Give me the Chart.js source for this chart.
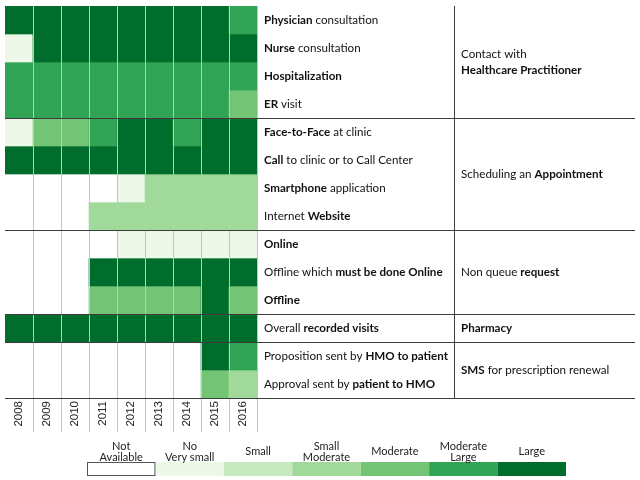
<!DOCTYPE html>
<html><head><meta charset="utf-8">
<script src="https://cdn.jsdelivr.net/npm/chart.js@4/dist/chart.umd.min.js"></script>
<style>html,body{margin:0;padding:0;background:#fff;}#wrap{width:640px;height:480px;position:relative;}</style>
</head><body><div id="wrap"><canvas id="c" width="640" height="480"></canvas></div>
<script>
// ---- data (level 0 = Not available ... 6 = Large) ----
const years = ['2008','2009','2010','2011','2012','2013','2014','2015','2016'];
const physician   = [6,6,6,6,6,6,6,6,5];
const nurse       = [1,6,6,6,6,6,6,6,6];
const hospital    = [5,5,5,5,5,5,5,5,5];
const erVisit     = [5,5,5,5,5,5,5,5,4];
const faceToFace  = [1,4,4,5,6,6,5,6,6];
const callClinic  = [6,6,6,6,6,6,6,6,6];
const smartphone  = [0,0,0,0,1,3,3,3,3];
const website     = [0,0,0,3,3,3,3,3,3];
const online      = [0,0,0,0,1,1,1,1,1];
const offMustOn   = [0,0,0,6,6,6,6,6,6];
const offline     = [0,0,0,4,4,4,4,6,4];
const overall     = [6,6,6,6,6,6,6,6,6];
const proposition = [0,0,0,0,0,0,0,6,5];
const approval    = [0,0,0,0,0,0,0,4,3];
const rows = [physician,nurse,hospital,erVisit,faceToFace,callClinic,smartphone,website,online,offMustOn,offline,overall,proposition,approval];

const rowLabels = [
  [['Physician',1],[' consultation',0]],
  [['Nurse',1],[' consultation',0]],
  [['Hospitalization',1]],
  [['ER',1],[' visit',0]],
  [['Face-to-Face',1],[' at clinic',0]],
  [['Call',1],[' to clinic or to Call Center',0]],
  [['Smartphone',1],[' application',0]],
  [['Internet ',0],['Website',1]],
  [['Online',1]],
  [['Offline which ',0],['must be done Online',1]],
  [['Offline',1]],
  [['Overall ',0],['recorded visits',1]],
  [['Proposition sent by ',0],['HMO to patient',1]],
  [['Approval sent by ',0],['patient to HMO',1]]
];
const groupBounds = [[0,4],[4,8],[8,11],[11,12],[12,14]];
const groupLabels = [
  [[['Contact with',0]],[['Healthcare Practitioner',1]]],
  [[['Scheduling an ',0],['Appointment',1]]],
  [[['Non queue ',0],['request',1]]],
  [[['Pharmacy',1]]],
  [[['SMS',1],[' for prescription renewal',0]]]
];
const legendLabels = [['Not','Available'],['No','Very small'],['Small'],['Small','Moderate'],['Moderate'],['Moderate','Large'],['Large']];
const palette = ['#ffffff','#edf8e9','#c7e9c0','#a1d99b','#74c476','#31a354','#006d2c'];

const FONT = 'Lato';
const FS = 11.6;

function drawRich(ctx, segs, x, y, size){
  let cx = x;
  for (const [t,b] of segs){
    ctx.font = (b?'bold ':'') + size + 'px ' + FONT;
    ctx.fillText(t, cx, y);
    cx += ctx.measureText(t).width;
  }
}

const tablePlugin = {
  id:'table',
  afterDraw(chart){
    const ctx = chart.ctx, ca = chart.chartArea, ys = chart.scales.y;
    ctx.save();
    ctx.strokeStyle = '#3c3c3c'; ctx.lineWidth = 1;
    for (const [a,b] of groupBounds){
      const py = Math.round(ys.getPixelForValue(b)) + 0.5;
      ctx.beginPath(); ctx.moveTo(ca.left, py); ctx.lineTo(635, py); ctx.stroke();
    }
    ctx.beginPath(); ctx.moveTo(454.5, ca.top); ctx.lineTo(454.5, ca.bottom); ctx.stroke();
    ctx.fillStyle = '#111'; ctx.textBaseline = 'middle'; ctx.textAlign = 'left';
    rowLabels.forEach((segs,i)=>{
      const py = ys.getPixelForValue(i+0.5);
      drawRich(ctx, segs, 264, py, FS);
    });
    groupLabels.forEach((lines,g)=>{
      const [a,b] = groupBounds[g];
      const cy = ys.getPixelForValue((a+b)/2);
      const lh = 16;
      lines.forEach((segs,k)=>{
        const py = cy + (k - (lines.length-1)/2)*lh;
        drawRich(ctx, segs, 461, py, FS);
      });
    });
    const lx0 = 87, lw = (566-87)/palette.length, ly = 462, lhh = 14;
    palette.forEach((c,i)=>{
      ctx.fillStyle = c;
      ctx.fillRect(lx0 + i*lw, ly, lw, lhh);
    });
    ctx.strokeStyle = '#555';
    ctx.strokeRect(lx0+0.5, ly+0.5, lw-1, lhh-1);
    ctx.fillStyle = '#222'; ctx.textAlign = 'center';
    ctx.font = '11px ' + FONT;
    legendLabels.forEach((lines,i)=>{
      const cx = lx0 + (i+0.5)*lw;
      if (lines.length === 1) ctx.fillText(lines[0], cx, 451);
      else { ctx.fillText(lines[0], cx, 446); ctx.fillText(lines[1], cx, 457); }
    });
    ctx.restore();
  }
};

new Chart(document.getElementById('c'), {
  type:'bar',
  data:{
    labels: years,
    datasets: rows.map((r,i)=>({
      label: rowLabels[i].map(s=>s[0]).join(''),
      data: years.map(()=>1),
      backgroundColor: r.map(v=>palette[v]),
      borderWidth: 0,
      barPercentage: 1,
      categoryPercentage: 1
    }))
  },
  options:{
    responsive:false,
    devicePixelRatio:1,
    animation:false,
    layout:{padding:{left:5, top:6, right:383, bottom:48}},
    plugins:{legend:{display:false}, tooltip:{enabled:false}},
    scales:{
      x:{
        stacked:true,
        offset:true,
        afterFit(s){ s.height = 34; },
        grid:{
          z:1,
          offset:true,
          drawOnChartArea:true,
          tickLength:34,
          color:(c)=> c.index===0 ? 'rgba(0,0,0,0)' : (c.index===years.length ? '#3c3c3c' : '#c4c4c4'),
          lineWidth:1
        },
        border:{display:false},
        ticks:{
          minRotation:90, maxRotation:90, autoSkip:false,
          padding:-31,
          color:'#222',
          font:{family:'Liberation Sans', size:11.5}
        }
      },
      y:{
        stacked:true, display:false, min:0, max:14, reverse:true
      }
    }
  },
  plugins:[tablePlugin]
});
</script></body></html>
